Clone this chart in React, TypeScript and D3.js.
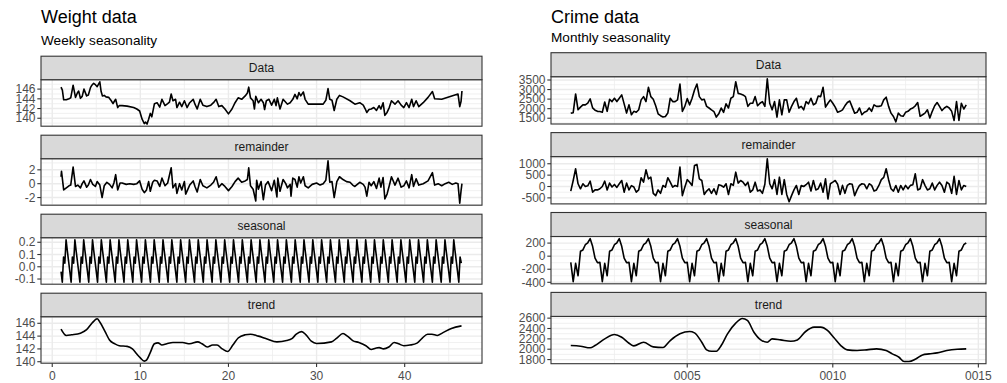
import React from 'react';
import * as d3 from 'd3';

type Pt = [number, number];

// ---------- Weight data: x in weeks, daily observations ----------
const weightData: Pt[] = [
  [1.0, 146.4], [1.15, 145.8], [1.3, 143.8], [1.6, 143.8], [1.9, 144.0], [2.1, 144.2], [2.37, 146.8], [2.64, 144.3],
  [2.85, 145.2], [3.0, 145.6], [3.2, 144.1], [3.4, 144.5], [3.6, 146.0], [3.9, 144.6], [4.1, 144.8], [4.34, 146.3],
  [4.5, 146.8], [4.7, 147.2], [4.9, 146.9], [5.1, 146.5], [5.4, 147.5], [5.55, 145.5], [5.7, 144.6], [5.9, 144.7],
  [6.1, 144.4], [6.4, 144.3], [6.7, 143.6], [6.9, 143.0], [7.05, 143.5], [7.2, 143.9], [7.43, 142.2], [7.6, 142.6],
  [7.93, 142.6], [8.5, 142.5], [9.24, 142.2], [9.6, 141.9], [9.92, 141.5], [10.2, 139.8], [10.45, 138.9], [10.6, 139.2],
  [10.76, 138.8], [10.94, 139.8], [11.13, 141.0], [11.3, 140.3], [11.6, 143.0], [11.9, 143.2], [12.2, 142.3], [12.45, 143.9],
  [12.8, 142.6], [13.1, 143.0], [13.3, 143.3], [13.5, 145.0], [13.7, 143.6], [14.0, 143.9], [14.15, 142.2], [14.45, 143.3],
  [14.7, 142.4], [15.0, 143.6], [15.3, 142.2], [15.6, 143.2], [16.0, 143.9], [16.2, 142.9], [16.45, 141.9], [16.8, 143.9],
  [17.1, 142.7], [17.55, 142.4], [18.0, 142.7], [18.3, 143.2], [18.6, 143.9], [18.9, 142.4], [19.25, 142.6], [19.6, 141.9],
  [20.0, 140.9], [20.4, 141.9], [20.75, 143.2], [21.1, 144.2], [21.5, 143.9], [21.9, 144.6], [22.15, 145.2], [22.3, 146.4],
  [22.5, 144.2], [22.8, 143.6], [22.95, 141.9], [23.1, 144.5], [23.4, 143.2], [23.7, 143.9], [23.96, 143.2], [24.1, 141.8],
  [24.3, 143.6], [24.6, 143.9], [24.9, 142.7], [25.2, 143.9], [25.4, 142.6], [25.55, 144.2], [25.85, 141.9], [26.2, 143.9],
  [26.45, 143.4], [26.7, 142.9], [27.0, 143.2], [27.3, 143.9], [27.55, 144.9], [27.8, 144.0], [28.0, 145.3], [28.2, 144.6],
  [28.5, 145.4], [28.7, 143.9], [29.05, 142.9], [30.75, 142.9], [31.05, 143.7], [31.3, 146.1], [31.5, 143.9], [31.75, 143.7],
  [32.0, 141.6], [32.3, 143.9], [32.6, 144.7], [33.0, 144.4], [33.8, 143.6], [34.35, 142.9], [34.9, 143.2], [35.3, 142.7],
  [35.5, 142.0], [35.7, 141.2], [35.95, 141.8], [36.2, 141.9], [36.5, 142.2], [36.8, 141.6], [37.1, 142.6], [37.3, 141.9],
  [37.55, 143.2], [37.75, 140.6], [38.0, 141.2], [38.25, 142.2], [38.5, 143.6], [38.9, 142.9], [39.25, 143.6], [39.6, 142.7],
  [39.9, 142.2], [40.2, 143.2], [40.5, 142.2], [40.8, 143.9], [41.0, 142.4], [41.3, 143.6], [41.6, 142.4], [42.1, 143.2],
  [42.65, 144.3], [43.15, 145.5], [43.4, 144.0], [44.2, 143.9], [46.05, 145.0], [46.25, 142.4], [46.4, 143.5], [46.5, 145.6],
];

const weightRemainder: Pt[] = [
  [1.0, 1.0], [1.05, 1.8], [1.3, -0.9], [1.6, -0.6], [1.9, -0.3], [2.1, -0.2], [2.37, 2.4], [2.64, -0.4], [2.9, -0.2],
  [3.2, -0.6], [3.4, 0.0], [3.6, 0.4], [3.9, -0.5], [4.1, -0.2], [4.34, 0.6], [4.6, -0.1], [4.9, -0.4], [5.1, 0.3],
  [5.4, -0.2], [5.66, -2.0], [5.9, -0.3], [6.2, 0.2], [6.5, -0.1], [6.8, -0.6], [7.0, 0.1], [7.2, 1.3], [7.43, -0.9],
  [7.7, 0.1], [7.93, 0.1], [8.4, -0.1], [8.8, 0.0], [9.24, -0.1], [9.6, 0.0], [9.92, 0.4], [10.2, -0.8], [10.45, -1.3],
  [10.7, -0.9], [10.94, 0.3], [11.13, -1.1], [11.4, 0.2], [11.6, 0.5], [11.9, 0.4], [12.2, -0.4], [12.45, 0.8], [12.8, -0.3],
  [13.1, 0.1], [13.5, 2.3], [13.7, -0.6], [14.0, 0.0], [14.15, -1.4], [14.45, 0.0], [14.7, -0.9], [15.0, 0.3], [15.15, -1.5],
  [15.6, -0.2], [16.0, 0.4], [16.2, -0.4], [16.45, -1.2], [16.8, 0.6], [17.1, -0.3], [17.55, -0.6], [18.0, -0.2], [18.3, 0.2],
  [18.6, 1.0], [18.9, -0.5], [19.25, 0.0], [19.6, -0.4], [20.0, -1.0], [20.4, -0.4], [20.75, 0.3], [21.1, 0.8], [21.5, 0.2],
  [21.9, 0.4], [22.15, 0.6], [22.3, 2.3], [22.5, -0.3], [22.8, -0.8], [23.1, -2.5], [23.2, 0.5], [23.4, -0.8], [23.7, 0.3],
  [23.96, -2.3], [24.2, -0.2], [24.5, 0.3], [24.9, -1.0], [25.2, 0.5], [25.5, -1.9], [25.6, 0.8], [25.85, -1.1], [26.2, 0.6],
  [26.5, 0.0], [26.7, -0.6], [27.0, -0.1], [27.1, -1.8], [27.3, 0.8], [27.55, 0.6], [27.8, -0.5], [28.0, 1.0], [28.2, 0.1],
  [28.5, 1.0], [28.7, -0.3], [29.05, -0.6], [29.5, -0.1], [30.0, 0.1], [30.4, -0.2], [30.75, 0.0], [31.05, 0.5], [31.3, 3.3],
  [31.5, 0.2], [31.75, 0.3], [32.0, -2.0], [32.3, 0.3], [32.6, 1.0], [33.0, 0.6], [33.4, 0.3], [33.8, 0.2], [34.1, -0.2],
  [34.35, -0.4], [34.9, 0.2], [35.3, -0.1], [35.5, -0.5], [35.7, -1.8], [35.95, 0.2], [36.2, -0.3], [36.5, 0.3], [36.8, -0.7],
  [37.1, 0.8], [37.3, -0.5], [37.55, 0.9], [37.75, -2.2], [38.0, -1.5], [38.25, -0.3], [38.5, 1.0], [38.9, -0.2], [39.25, 0.8],
  [39.6, -0.5], [39.9, -0.3], [40.2, 0.4], [40.5, -0.6], [40.8, 1.3], [41.0, -0.4], [41.3, 0.7], [41.6, -0.2], [42.1, 0.0],
  [42.65, 0.4], [43.15, 1.6], [43.4, -0.2], [43.8, 0.0], [44.2, -0.3], [44.6, 0.0], [45.0, 0.2], [45.4, -0.1], [45.8, 0.1],
  [46.05, 0.0], [46.25, -2.8], [46.4, -1.0], [46.5, 0.0],
];

// one value per day, first day at week 1
const weightSeasonal: number[] = [
  -0.04,
  -0.125, 0.08, 0.03, 0.22, 0.13, 0.045, -0.04, -0.125, 0.08, 0.03, 0.22, 0.13, 0.045, -0.04, -0.125, 0.08, 0.03, 0.22, 0.13, 0.045, -0.04,
  -0.125, 0.08, 0.03, 0.22, 0.13, 0.045, -0.04, -0.125, 0.08, 0.03, 0.22, 0.13, 0.045, -0.04, -0.125, 0.08, 0.03, 0.22, 0.13, 0.045, -0.04,
  -0.125, 0.08, 0.03, 0.22, 0.13, 0.045, -0.04, -0.125, 0.08, 0.03, 0.22, 0.13, 0.045, -0.04, -0.125, 0.08, 0.03, 0.22, 0.13, 0.045, -0.04,
  -0.125, 0.08, 0.03, 0.22, 0.13, 0.045, -0.04, -0.125, 0.08, 0.03, 0.22, 0.13, 0.045, -0.04, -0.125, 0.08, 0.03, 0.22, 0.13, 0.045, -0.04,
  -0.125, 0.08, 0.03, 0.22, 0.13, 0.045, -0.04, -0.125, 0.08, 0.03, 0.22, 0.13, 0.045, -0.04, -0.125, 0.08, 0.03, 0.22, 0.13, 0.045, -0.04,
  -0.125, 0.08, 0.03, 0.22, 0.13, 0.045, -0.04, -0.125, 0.08, 0.03, 0.22, 0.13, 0.045, -0.04, -0.125, 0.08, 0.03, 0.22, 0.13, 0.045, -0.04,
  -0.125, 0.08, 0.03, 0.22, 0.13, 0.045, -0.04, -0.125, 0.08, 0.03, 0.22, 0.13, 0.045, -0.04, -0.125, 0.08, 0.03, 0.22, 0.13, 0.045, -0.04,
  -0.125, 0.08, 0.03, 0.22, 0.13, 0.045, -0.04, -0.125, 0.08, 0.03, 0.22, 0.13, 0.045, -0.04, -0.125, 0.08, 0.03, 0.22, 0.13, 0.045, -0.04,
  -0.125, 0.08, 0.03, 0.22, 0.13, 0.045, -0.04, -0.125, 0.08, 0.03, 0.22, 0.13, 0.045, -0.04, -0.125, 0.08, 0.03, 0.22, 0.13, 0.045, -0.04,
  -0.125, 0.08, 0.03, 0.22, 0.13, 0.045, -0.04, -0.125, 0.08, 0.03, 0.22, 0.13, 0.045, -0.04, -0.125, 0.08, 0.03, 0.22, 0.13, 0.045, -0.04,
  -0.125, 0.08, 0.03, 0.22, 0.13, 0.045, -0.04, -0.125, 0.08, 0.03, 0.22, 0.13, 0.045, -0.04, -0.125, 0.08, 0.03, 0.22, 0.13, 0.045, -0.04,
  -0.125, 0.08, 0.03, 0.22, 0.13, 0.045, -0.04, -0.125, 0.08, 0.03, 0.22, 0.13, 0.045, -0.04, -0.125, 0.08, 0.03, 0.22, 0.13, 0.045, -0.04,
  -0.125, 0.08, 0.03, 0.22, 0.13, 0.045, -0.04, -0.125, 0.08, 0.03, 0.22, 0.13, 0.045, -0.04, -0.125, 0.08, 0.03, 0.22, 0.13, 0.045, -0.04,
  -0.125, 0.08, 0.03, 0.22, 0.13, 0.045, -0.04, -0.125, 0.08, 0.03, 0.22, 0.13, 0.045, -0.04, -0.125, 0.08, 0.03, 0.22, 0.13, 0.045, -0.04,
  -0.125, 0.08, 0.03, 0.22, 0.13, 0.045, -0.04, -0.125, 0.08, 0.03, 0.22, 0.13, 0.045, -0.04, -0.125, 0.08, 0.03, 0.22, 0.13, 0.045, -0.04,
  -0.125, 0.08, 0.03,
];

const weightTrend: Pt[] = [
  [1.0, 145.1], [1.6, 144.1], [2.2, 144.2], [3.2, 144.45], [3.9, 145.0], [4.5, 146.0], [5.1, 146.7], [5.4, 146.2],
  [6.0, 144.7], [6.5, 143.4], [7.1, 142.8], [7.6, 142.5], [8.5, 142.4], [9.1, 142.0], [9.6, 141.2], [10.0, 140.6],
  [10.45, 140.1], [10.7, 140.25], [11.1, 141.35], [11.6, 142.8], [12.0, 142.95], [12.45, 142.6], [13.0, 142.8], [13.7, 143.0],
  [14.8, 143.0], [15.6, 142.8], [16.5, 143.1], [17.0, 142.8], [17.6, 142.3], [18.2, 142.6], [18.7, 142.6], [19.3, 142.0],
  [19.9, 141.6], [20.5, 142.6], [21.1, 143.7], [21.9, 144.2], [22.5, 144.3], [23.4, 144.0], [24.3, 143.6], [25.5, 143.1],
  [26.6, 143.3], [27.2, 143.6], [27.7, 144.3], [28.3, 144.7], [28.8, 144.2], [29.4, 143.2], [30.0, 142.85], [31.7, 143.1],
  [32.3, 143.7], [33.0, 144.4], [33.5, 144.0], [34.1, 143.3], [34.8, 143.0], [35.6, 142.5], [36.2, 141.9], [36.7, 142.1],
  [37.1, 142.2], [37.6, 142.0], [38.2, 142.3], [38.8, 143.0], [39.3, 142.8], [39.9, 142.5], [40.6, 142.6], [41.4, 142.9],
  [42.0, 143.7], [42.6, 144.3], [43.1, 144.3], [43.7, 144.1], [44.3, 144.5], [45.3, 145.2], [46.45, 145.6],
];

const weightXTicks = [0, 10, 20, 30, 40];
const weightXLabels = ['0', '10', '20', '30', '40'];
const weightYTicks = [[140, 142, 144, 146], [-2, 0, 2], [-0.1, 0, 0.1, 0.2], [140, 142, 144, 146]];
const weightYLabels = [['140', '142', '144', '146'], ['-2', '0', '2'], ['-0.1', '0.0', '0.1', '0.2'], ['140', '142', '144', '146']];

// ---------- Crime data: monthly, first month = year 1 ----------
const crimeData: number[] = [
  1765, 1790, 2770, 1940, 2080, 2200, 2200, 2290, 2510, 2040, 1920, 1860, 1850, 1810, 2350, 1860,
  2490, 2370, 2545, 2370, 2545, 2720, 2250, 1770, 2200, 1680, 1860, 1810, 1940, 2460, 2630, 2370,
  3120, 2630, 2490, 2150, 1730, 1630, 1560, 1590, 1770, 2545, 2370, 2370, 2460, 3290, 1860, 2120,
  2525, 2200, 2545, 2980, 3290, 2630, 2460, 2490, 2120, 2035, 1940, 1850, 1560, 1730, 2035, 1810,
  2255, 2035, 2545, 2630, 3410, 2800, 2770, 2720, 2630, 2120, 2285, 2285, 2630, 2150, 2285, 2370,
  2120, 3560, 2285, 1940, 2370, 1560, 2460, 1680, 2460, 2460, 1810, 2120, 2370, 2545, 2035, 2120,
  1940, 2370, 2255, 2545, 2200, 2285, 2665, 2630, 3120, 2080, 2285, 2460, 2285, 2080, 1810, 1860,
  1940, 2150, 2320, 2400, 2080, 1765, 1810, 2035, 1680, 1810, 1860, 2035, 1860, 2200, 2120, 2120,
  2150, 2460, 2600, 2120, 1765, 1590, 1310, 1765, 1630, 1600, 1810, 1860, 1980, 2035, 2150, 2320,
  1600, 1680, 1765, 1940, 1510, 1860, 2150, 2320, 2120, 1900, 2035, 2120, 2035, 1860, 1380, 2370,
  1380, 2285, 1980, 2200,
];

const crimeRemainder: number[] = [
  -205, 265, 780, 120, -100, 120, 0, 30, 235, -250, -150, -150, -100, 0, 235, -150,
  150, -20, 90, -40, 120, 265, -250, 150, -150, 40, -20, -250, -150, 385, 190, 735,
  335, 410, -300, -400, -150, -300, 45, -30, 385, 190, -30, 45, 0, 850, -400, -30,
  300, 190, 45, 925, 970, 335, 265, -350, -200, -100, -300, -100, -350, 75, 45, -30,
  120, -350, 120, 50, 630, 150, 265, 190, 45, 190, -250, -150, 190, -200, -150, -300,
  100, 1220, 120, -100, 300, -350, 410, -350, 300, -350, -670, -400, -150, 45, -350, 45,
  0, 80, 190, -200, 265, -150, -100, 150, -250, 335, -550, 120, 190, 265, 100, -350,
  50, -300, 50, 120, 100, -400, -150, 45, 120, 100, -100, 120, 50, -200, -150, 45,
  300, 400, 780, 300, -100, -200, 45, -250, 45, -150, 50, -100, 50, 80, 560, -150,
  -100, 300, 50, -150, -100, 150, -150, 50, 190, 45, -250, 190, 100, -300, 450, -350,
  265, -150, 45, 0,
];

const crimeSeasonal: number[] = [
  -95, -390, -110, -300, 75, 95, 175, 205, 268, 150, -30, -100,
  -95, -390, -110, -300, 75, 95, 175, 205, 268, 150, -30, -100,
  -95, -390, -110, -300, 75, 95, 175, 205, 268, 150, -30, -100,
  -95, -390, -110, -300, 75, 95, 175, 205, 268, 150, -30, -100,
  -95, -390, -110, -300, 75, 95, 175, 205, 268, 150, -30, -100,
  -95, -390, -110, -300, 75, 95, 175, 205, 268, 150, -30, -100,
  -95, -390, -110, -300, 75, 95, 175, 205, 268, 150, -30, -100,
  -95, -390, -110, -300, 75, 95, 175, 205, 268, 150, -30, -100,
  -95, -390, -110, -300, 75, 95, 175, 205, 268, 150, -30, -100,
  -95, -390, -110, -300, 75, 95, 175, 205, 268, 150, -30, -100,
  -95, -390, -110, -300, 75, 95, 175, 205, 268, 150, -30, -100,
  -95, -390, -110, -300, 75, 95, 175, 205, 268, 150, -30, -100,
  -95, -390, -110, -300, 75, 95, 175, 205, 268, 150, -30, -100,
  -95, -390, -110, -300, 75, 95, 175, 205,
];

// [month index, value]
const crimeTrend: Pt[] = [
  [0, 2071], [4, 2058], [8, 2027], [10, 2071], [14, 2200], [18, 2284], [21, 2232], [24, 2116], [26, 2064],
  [30, 2135], [34, 2045], [38, 2032], [41, 2168], [45, 2297], [49, 2342], [51, 2316], [54, 2135], [56, 1988],
  [58, 1960], [60, 1962], [62, 2071], [64.6, 2297], [68, 2503], [70.7, 2592], [72.8, 2555], [75.5, 2329],
  [78.3, 2180], [81, 2135], [83, 2200], [86.5, 2180], [90.7, 2155], [93.4, 2180], [96.8, 2342], [100.3, 2426],
  [103, 2426], [105.8, 2362], [108.5, 2220], [111.3, 2071], [114, 1988], [118, 1975], [122, 1988], [126, 2007],
  [130, 1975], [132.5, 1910], [135.3, 1845], [137.4, 1762], [139.4, 1762], [142.2, 1813], [145, 1890],
  [147.7, 1910], [151, 1930], [155, 1975], [159.3, 2000], [163, 2007],
];

const crimeXTicks = [5, 10, 15];
const crimeXLabels = ['0005', '0010', '0015'];
const crimeYTicks = [[1500, 2000, 2500, 3000, 3500], [-500, 0, 500, 1000], [-400, -200, 0, 200], [1800, 2000, 2200, 2400, 2600]];
const crimeYLabels = crimeYTicks.map(t => t.map(String));

const facetNames = ['Data', 'remainder', 'seasonal', 'trend'];

const FONT = '"Liberation Sans", Arial, Helvetica, sans-serif';

function expand([a, b]: [number, number]): [number, number] {
  const r = b - a;
  return [a - r * 0.05, b + r * 0.05];
}

function minorsOf(ticks: number[], dom: [number, number]) {
  const step = ticks[1] - ticks[0];
  const out: number[] = [];
  for (let i = -1; i < ticks.length; i++) {
    const m = ticks[0] + step * (i + 0.5);
    if (m >= dom[0] && m <= dom[1]) out.push(m);
  }
  return out;
}

interface Facet { label: string; pts: Pt[]; ticks: number[]; labels: string[]; smooth?: boolean }

function Decomp({ left, right, top, pitch, stripH, panelH, title, subtitle, titleY, subY, facets, xTicks, xLabels }: {
  left: number; right: number; top: number; pitch: number; stripH: number; panelH: number;
  title: string; subtitle: string; titleY: number; subY: number; facets: Facet[]; xTicks: number[]; xLabels: string[];
}) {
  const xDom = expand(d3.extent(facets.flatMap(f => f.pts.map(p => p[0]))) as [number, number]);
  const x = d3.scaleLinear().domain(xDom).range([left, right]);
  const xMinor = minorsOf(xTicks, xDom);
  const lastBottom = top + (facets.length - 1) * pitch + stripH + panelH;

  return (
    <g fontFamily={FONT}>
      <text x={left} y={titleY} fontSize={18} fill="#000">{title}</text>
      <text x={left} y={subY} fontSize={13.6} fill="#000">{subtitle}</text>
      {facets.map((f, i) => {
        const sTop = top + i * pitch;
        const pTop = sTop + stripH;
        const pBot = pTop + panelH;
        const yDom = expand(d3.extent(f.pts, p => p[1]) as [number, number]);
        const y = d3.scaleLinear().domain(yDom).range([pBot, pTop]);
        const yMinor = minorsOf(f.ticks, yDom);
        const line = d3.line<Pt>().x(p => x(p[0])).y(p => y(p[1]))
          .curve(f.smooth ? d3.curveMonotoneX : d3.curveLinear);
        return (
          <g key={f.label}>
            <rect x={left} y={pTop} width={right - left} height={panelH} fill="#fff" />
            {yMinor.map(v => <line key={'ym' + v} x1={left} x2={right} y1={y(v)} y2={y(v)} stroke="#EBEBEB" strokeWidth={0.7} />)}
            {xMinor.map(v => <line key={'xm' + v} x1={x(v)} x2={x(v)} y1={pTop} y2={pBot} stroke="#EBEBEB" strokeWidth={0.7} />)}
            {f.ticks.map(v => <line key={'yM' + v} x1={left} x2={right} y1={y(v)} y2={y(v)} stroke="#EBEBEB" strokeWidth={1.4} />)}
            {xTicks.map(v => <line key={'xM' + v} x1={x(v)} x2={x(v)} y1={pTop} y2={pBot} stroke="#EBEBEB" strokeWidth={1.4} />)}
            <path d={line(f.pts) || ''} fill="none" stroke="#000" strokeWidth={1.6} strokeLinejoin="round" />
            <rect x={left} y={pTop} width={right - left} height={panelH} fill="none" stroke="#333" strokeWidth={1.1} />
            <rect x={left} y={sTop} width={right - left} height={stripH} fill="#D9D9D9" stroke="#333" strokeWidth={1.1} />
            <text x={(left + right) / 2} y={sTop + stripH / 2} dy="0.35em" textAnchor="middle" fontSize={12} fill="#1A1A1A">{f.label}</text>
            {f.ticks.map((v, k) => (
              <g key={'yt' + v}>
                <line x1={left - 3.7} x2={left} y1={y(v)} y2={y(v)} stroke="#333" strokeWidth={1.1} />
                <text x={left - 5.5} y={y(v)} dy="0.35em" textAnchor="end" fontSize={12} fill="#4D4D4D">{f.labels[k]}</text>
              </g>
            ))}
          </g>
        );
      })}
      {xTicks.map((v, k) => (
        <g key={'xt' + v}>
          <line x1={x(v)} x2={x(v)} y1={lastBottom} y2={lastBottom + 3.7} stroke="#333" strokeWidth={1.1} />
          <text x={x(v)} y={lastBottom + 16.5} textAnchor="middle" fontSize={12} fill="#4D4D4D">{xLabels[k]}</text>
        </g>
      ))}
    </g>
  );
}

export default function App() {
  const weightFacets: Facet[] = [
    { label: facetNames[0], pts: weightData, ticks: weightYTicks[0], labels: weightYLabels[0] },
    { label: facetNames[1], pts: weightRemainder, ticks: weightYTicks[1], labels: weightYLabels[1] },
    { label: facetNames[2], pts: weightSeasonal.map((v, i) => [1 + i / 7, v] as Pt), ticks: weightYTicks[2], labels: weightYLabels[2] },
    { label: facetNames[3], pts: weightTrend, ticks: weightYTicks[3], labels: weightYLabels[3], smooth: true },
  ];
  const monthly = (arr: number[]) => arr.map((v, i) => [1 + i / 12, v] as Pt);
  const crimeFacets: Facet[] = [
    { label: facetNames[0], pts: monthly(crimeData), ticks: crimeYTicks[0], labels: crimeYLabels[0] },
    { label: facetNames[1], pts: monthly(crimeRemainder), ticks: crimeYTicks[1], labels: crimeYLabels[1] },
    { label: facetNames[2], pts: monthly(crimeSeasonal), ticks: crimeYTicks[2], labels: crimeYLabels[2] },
    { label: facetNames[3], pts: crimeTrend.map(([m, v]) => [1 + m / 12, v] as Pt), ticks: crimeYTicks[3], labels: crimeYLabels[3], smooth: true },
  ];
  return (
    <svg width={1007} height={383} style={{ position: 'absolute', left: 0, top: 0, background: '#fff' }}>
      <rect width={1007} height={383} fill="#fff" />
      <Decomp left={41} right={482} top={56.2} pitch={79} stripH={23.5} panelH={46.5}
        title="Weight data" subtitle="Weekly seasonality" titleY={22.5} subY={44.5}
        facets={weightFacets} xTicks={weightXTicks} xLabels={weightXLabels} />
      <Decomp left={551} right={986} top={52.7} pitch={79.9} stripH={24} panelH={47.3}
        title="Crime data" subtitle="Monthly seasonality" titleY={23} subY={42}
        facets={crimeFacets} xTicks={crimeXTicks} xLabels={crimeXLabels} />
    </svg>
  );
}
